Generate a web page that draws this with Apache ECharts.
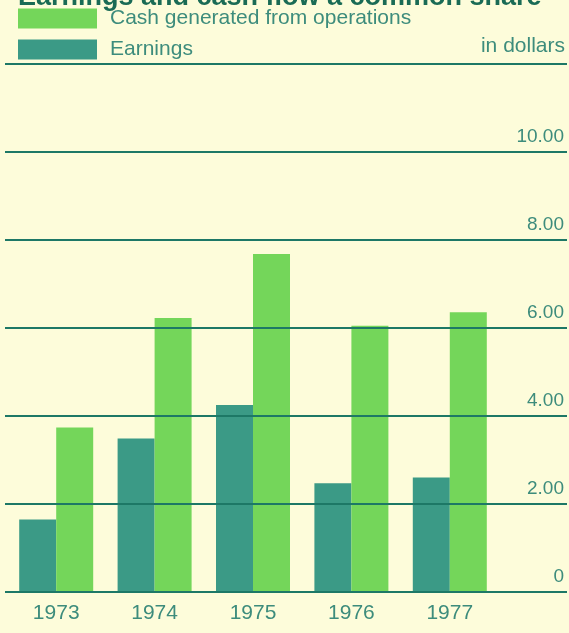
<!DOCTYPE html>
<html>
<head>
<meta charset="utf-8">
<style>
  html, body { margin: 0; padding: 0; background: #fdfcda; }
  #chart { width: 569px; height: 633px; }
</style>
<script src="https://cdn.jsdelivr.net/npm/echarts@6/dist/echarts.min.js"></script>
</head>
<body>
<div id="chart"></div>
<script>
// data (dollars per share)
var years = ['1973', '1974', '1975', '1976', '1977']
var earnings = [1.65, 3.49, 4.25, 2.47, 2.60]
var cashOps = [3.74, 6.23, 7.68, 6.05, 6.36]
var yTicks = [0, 2, 4, 6, 8, 10, 12]

var textColor = '#3d8c7c'
var lineColor = '#1d7866'

var myChart = echarts.init(document.getElementById('chart'))

var option = {
  backgroundColor: '#fdfcda',
  animation: false,
  textStyle: { fontFamily: 'Liberation Sans, Arial, sans-serif' },
  title: [
    {
      // heading is cut off at the top edge in the original
      text: 'Earnings and cash flow a common share',
      left: 18,
      top: -16,
      padding: 0,
      textStyle: { fontSize: 27, fontWeight: 'bold', color: '#1a6b55' }
    },
    {
      text: 'in dollars',
      right: 4,
      top: 36,
      padding: 0,
      textStyle: { fontSize: 21, fontWeight: 'normal', color: textColor }
    }
  ],
  legend: {
    orient: 'vertical',
    left: 18,
    top: 8,
    padding: 0,
    itemWidth: 79,
    itemHeight: 20,
    itemGap: 10,
    icon: 'rect',
    selectedMode: false,
    textStyle: { fontSize: 21, color: textColor, padding: [0, 0, 0, 8] },
    data: ['Cash generated from operations', 'Earnings']
  },
  grid: [
    { left: 7, right: 70, top: 64, bottom: 41 },
    { left: 5, right: 2, top: 64, bottom: 41 }
  ],
  xAxis: [
    {
      type: 'category',
      gridIndex: 0,
      data: years,
      axisLine: { show: false },
      axisTick: { show: false },
      axisLabel: { color: textColor, fontSize: 21, margin: 11 }
    },
    { type: 'value', gridIndex: 1, show: false }
  ],
  yAxis: [
    { type: 'value', gridIndex: 0, min: 0, max: 12, show: false },
    {
      type: 'value',
      gridIndex: 1,
      min: yTicks[0],
      max: yTicks[yTicks.length - 1],
      interval: 2,
      position: 'right',
      z: 10,
      axisLine: { show: false },
      axisTick: { show: false },
      splitLine: { show: true, lineStyle: { color: lineColor, width: 2 } },
      axisLabel: {
        inside: true,
        margin: 3,
        verticalAlign: 'bottom',
        padding: [0, 0, 6, 0],
        color: textColor,
        fontSize: 19,
        formatter: function (v) {
          if (v === 0) return '0'
          if (v === 12) return ''
          return v.toFixed(2)
        }
      }
    }
  ],
  series: [
    {
      name: 'Earnings',
      type: 'bar',
      xAxisIndex: 0,
      yAxisIndex: 0,
      barWidth: 37,
      barGap: '0%',
      itemStyle: { color: '#3b9a86' },
      data: earnings
    },
    {
      name: 'Cash generated from operations',
      type: 'bar',
      xAxisIndex: 0,
      yAxisIndex: 0,
      barWidth: 37,
      barGap: '0%',
      itemStyle: { color: '#74d65a' },
      data: cashOps
    }
  ]
}

myChart.setOption(option)
window.onresize = myChart.resize
</script>
</body>
</html>
